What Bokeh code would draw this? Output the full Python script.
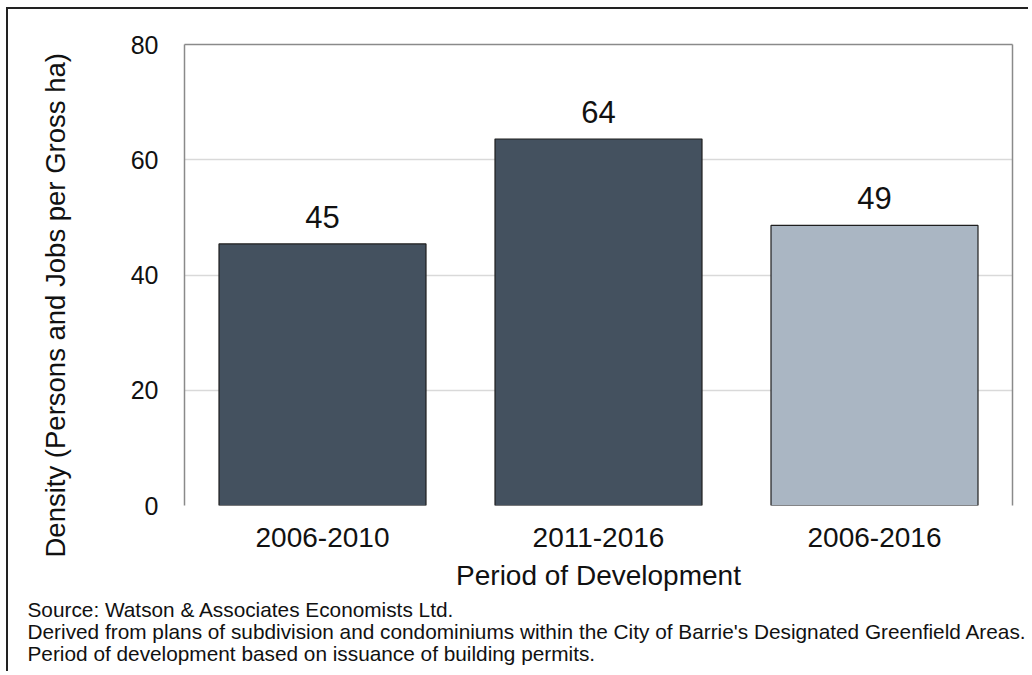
from bokeh.plotting import figure
from bokeh.models import ColumnDataSource, FactorRange, Range1d, LinearAxis, FixedTicker, Title
from bokeh.core.properties import value
from bokeh.embed import file_html
from bokeh.resources import INLINE

# ---- data ----
periods = ["2006-2010", "2011-2016", "2006-2016"]
density = [45.4, 63.6, 48.6]
bar_colors = ["#44515f", "#44515f", "#aab6c3"]
y_ticks = [0, 20, 40, 60, 80]
y_title = "Density (Persons and Jobs per Gross ha)"
x_title = "Period of Development"
notes = [
    "Source: Watson & Associates Economists Ltd.",
    "Derived from plans of subdivision and condominiums within the City of Barrie's Designated Greenfield Areas.",
    "Period of development based on issuance of building permits.",
]

FONT = "Liberation Sans"
TXT = "#111111"
FRAME = "#8a8a8a"

src = ColumnDataSource(dict(
    period=periods,
    density=density,
    color=bar_colors,
    label=[str(int(round(v))) for v in density],
))

p = figure(
    x_range=FactorRange(factors=periods, range_padding=0),
    y_range=Range1d(0, 80),
    width=1022, height=664,
    output_backend="svg", toolbar_location=None,
    min_border_left=176, min_border_right=18,
    min_border_top=35, min_border_bottom=168,
)
p.styles = {"margin-left": "6px", "margin-top": "7px",
            "border-left": "2px solid #222222", "border-top": "2px solid #222222"}
p.outline_line_color = None
p.background_fill_color = "white"
p.border_fill_color = "white"

p.vbar(x="period", top="density", width=0.75, source=src,
       fill_color="color", line_color="#1e1e1e", line_width=1.2)

p.text(x="period", y="density", text="label", source=src,
       text_align="center", text_baseline="alphabetic", y_offset=-27,
       text_font=value(FONT), text_font_size="31px", text_color=TXT)

# grid
p.xgrid.grid_line_color = None
p.ygrid.grid_line_color = "#d9d9d9"
p.ygrid.grid_line_width = 1.5
p.ygrid.ticker = FixedTicker(ticks=y_ticks)

# y axis
ya = p.yaxis[0]
ya.ticker = FixedTicker(ticks=y_ticks)
ya.major_tick_line_color = None
ya.minor_tick_line_color = None
ya.major_tick_out = 0
ya.major_tick_in = 0
ya.axis_line_color = FRAME
ya.axis_line_width = 1.5
ya.major_label_standoff = 26
ya.major_label_text_font = FONT
ya.major_label_text_font_size = "25px"
ya.major_label_text_color = TXT

# spacer panel between the y axis and its title
p.add_layout(Title(text=" ", standoff=48, text_font_size="2px",
                   text_color="white"), "left")
# y title as a side title (sits slightly below the frame centre, as in the original)
p.add_layout(Title(text=y_title, align="left", offset=-52, standoff=10,
                   text_font=FONT, text_font_size="27.5px",
                   text_font_style="normal", text_color=TXT), "left")

# x axis
xa = p.xaxis[0]
xa.axis_line_color = None
xa.major_tick_line_color = None
xa.minor_tick_line_color = None
xa.major_tick_out = 0
xa.major_tick_in = 0
xa.major_label_standoff = 22
xa.major_label_text_font = FONT
xa.major_label_text_font_size = "28px"
xa.major_label_text_color = TXT
xa.axis_label = x_title
xa.axis_label_standoff = 10
xa.axis_label_text_font = FONT
xa.axis_label_text_font_size = "28px"
xa.axis_label_text_font_style = "normal"
xa.axis_label_text_color = TXT

# frame lines on right and top
for side in ("right", "above"):
    ax = LinearAxis()
    ax.major_tick_line_color = None
    ax.minor_tick_line_color = None
    ax.major_tick_out = 0
    ax.major_tick_in = 0
    ax.major_label_text_font_size = "0px"
    ax.major_label_standoff = 0
    ax.axis_line_color = FRAME
    ax.axis_line_width = 1.5
    ax.ticker = FixedTicker(ticks=[])
    p.add_layout(ax, side)

# footnotes (one multi-line note block)
p.add_layout(Title(text="\n".join(notes), align="left", offset=-157,
                   standoff=5, text_line_height=0.95,
                   text_font=FONT, text_font_size="20.8px",
                   text_font_style="normal", text_color=TXT), "below")

open("out.html", "w").write(file_html(p, INLINE))
